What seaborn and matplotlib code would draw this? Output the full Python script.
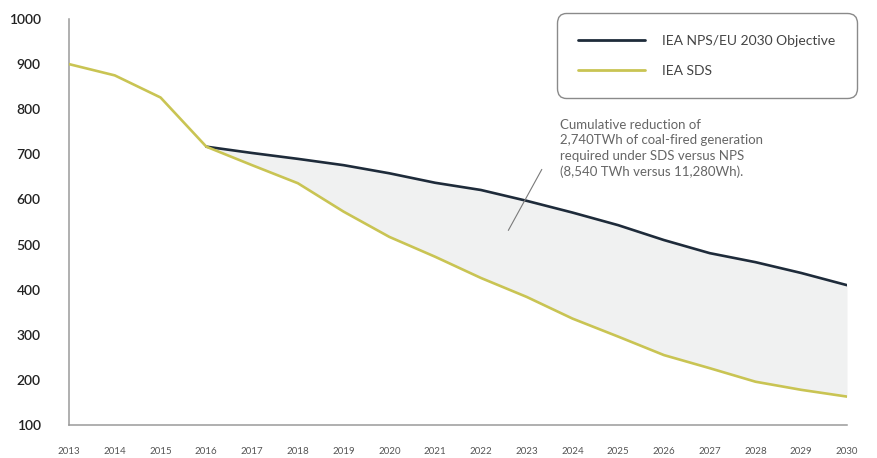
import numpy as np
import pandas as pd
import matplotlib
matplotlib.use("Agg")
import matplotlib.pyplot as plt
import seaborn as sns

# Coal-fired generation (TWh) under the two IEA scenarios
years = list(range(2013, 2031))
sds = [900, 875, 826, 717, 676, 636, 573, 517, 473, 426, 384, 336, 296, 255, 226, 196, 178, 163]
nps = [np.nan, np.nan, np.nan, 717, 703, 690, 676, 658, 637, 621, 597, 571, 543, 510, 481, 461, 437, 410]
series_names = ["IEA NPS/EU 2030 Objective", "IEA SDS"]
y_ticks = [100, 200, 300, 400, 500, 600, 700, 800, 900, 1000]
note = ("Cumulative reduction of\n"
        "2,740TWh of coal-fired generation\n"
        "required under SDS versus NPS\n"
        "(8,540 TWh versus 11,280Wh).")

sns.set_style("white")
plt.rcParams["font.family"] = ["Lato", "DejaVu Sans"]

df = pd.DataFrame({
    "year": years * 2,
    "value": nps + sds,
    "scenario": [series_names[0]] * len(years) + [series_names[1]] * len(years),
}).dropna()

fig = plt.figure(figsize=(8.77, 4.58), dpi=100)
ax = fig.add_axes([0.0787, 0.072, 0.8871, 0.8865])

# shaded gap between the two pathways
gap = pd.DataFrame({"year": years, "nps": nps, "sds": sds}).dropna()
ax.fill_between(gap["year"], gap["sds"], gap["nps"], color="#f0f1f1", lw=0, zorder=1)

palette = {series_names[0]: "#1e2b3a", series_names[1]: "#c9c453"}
sns.lineplot(data=df, x="year", y="value", hue="scenario", palette=palette,
             linewidth=1.9, ax=ax, zorder=3)

ax.set_xlim(2013, 2030)
ax.set_ylim(100, 1000)
ax.set_xticks(years)
ax.set_xticklabels([str(y) for y in years])
ax.set_yticks(y_ticks)
ax.set_xlabel("")
ax.set_ylabel("")

for side in ("top", "right"):
    ax.spines[side].set_visible(False)
for side in ("left", "bottom"):
    ax.spines[side].set_color("#9a9a9a")
    ax.spines[side].set_linewidth(1.1)

ax.tick_params(axis="y", direction="out", length=7.5, width=1.0, color="#9a9a9a",
               labelsize=10, labelcolor="#222222", pad=13)
for lab in ax.get_yticklabels():
    lab.set_fontweight("semibold")
ax.tick_params(axis="x", direction="out", length=6, width=1.0, color="#9a9a9a",
               labelsize=7, labelcolor="#555555", pad=10)

# callout line and note
ax.annotate("", xy=(2022.57, 526), xytext=(2023.36, 672),
            arrowprops=dict(arrowstyle="-", color="#7a7a7a", lw=0.8))
ax.text(2023.73, 779, note, ha="left", va="top", fontsize=9.5, color="#666666",
        linespacing=1.35)

handles, labels = ax.get_legend_handles_labels()
leg = ax.legend(handles, labels, loc="upper right",
                bbox_to_anchor=(857 / 877, 1 - 13 / 458), bbox_transform=fig.transFigure,
                borderaxespad=0, fontsize=10, frameon=True, fancybox=True,
                handlelength=4.8, handletextpad=1.25, labelspacing=1.3, borderpad=1.55,
                title=None)
frame = leg.get_frame()
frame.set_boxstyle("round", pad=0, rounding_size=0.7)
frame.set_edgecolor("#8a8a8a")
frame.set_linewidth(1.0)
frame.set_facecolor("white")
frame.set_alpha(1)
for t in leg.get_texts():
    t.set_color("#444444")
for line in leg.get_lines():
    line.set_linewidth(2.0)

fig.savefig("out.png", dpi=100)
